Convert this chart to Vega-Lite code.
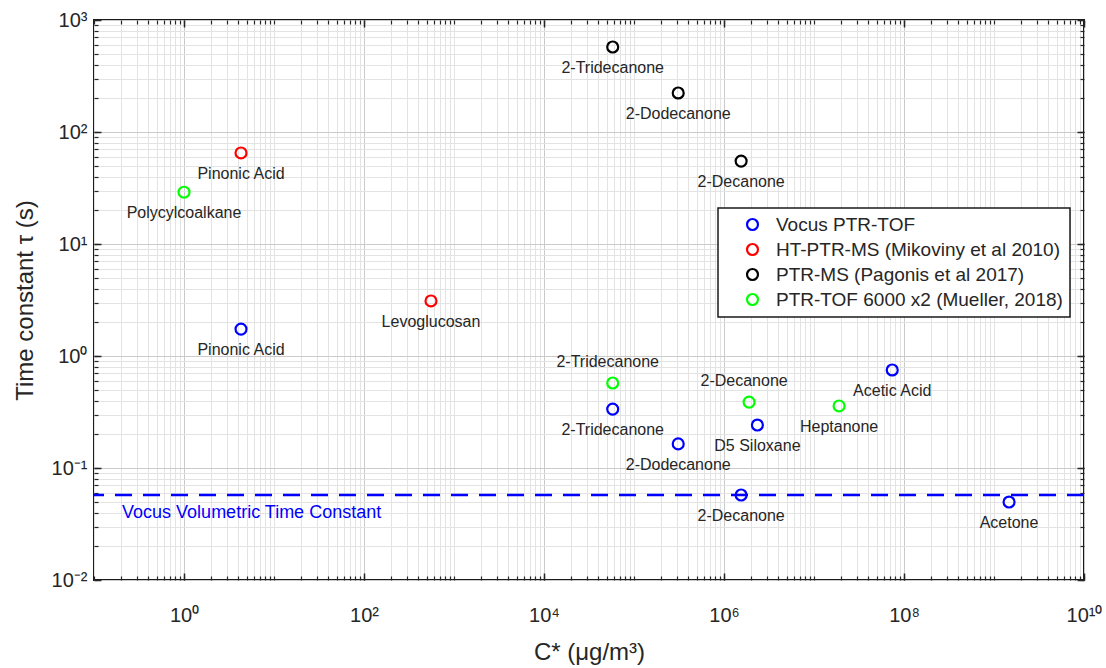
{
  "$schema": "https://vega.github.io/schema/vega-lite/v6.json",
  "width": 990,
  "height": 560,
  "autosize": {"type": "none"},
  "padding": {"left": 94, "top": 20, "right": 22, "bottom": 88},
  "background": "white",
  "config": {
    "font": "Liberation Sans",
    "view": {"stroke": "#1a1a1a", "strokeWidth": 2},
    "axis": {"domain": false, "labelFlush": false, "tickColor": "#262626", "labelColor": "#262626", "titleColor": "#262626", "titleFontWeight": "normal"},
    "legend": {"orient": "none", "legendX": 624, "legendY": 188, "strokeColor": "#1a1a1a", "strokeWidth": 1.5, "padding": 7, "fillColor": "white", "labelFontSize": 19, "labelLimit": 0, "labelColor": "#262626", "symbolOffset": 18, "labelOffset": 14, "rowPadding": 4, "symbolStrokeWidth": 2.2, "symbolSize": 120, "symbolType": "circle", "title": null}
  },
  "datasets": {
    "pts": [
      {"inst": "Vocus PTR-TOF", "name": "Pinonic Acid", "C": 4.3, "tau": 1.74, "pos": "b"},
      {"inst": "Vocus PTR-TOF", "name": "2-Tridecanone", "C": 58000, "tau": 0.336, "pos": "b"},
      {"inst": "Vocus PTR-TOF", "name": "2-Dodecanone", "C": 310000, "tau": 0.164, "pos": "b"},
      {"inst": "Vocus PTR-TOF", "name": "2-Decanone", "C": 1550000, "tau": 0.0574, "pos": "b"},
      {"inst": "Vocus PTR-TOF", "name": "D5 Siloxane", "C": 2350000, "tau": 0.242, "pos": "b"},
      {"inst": "Vocus PTR-TOF", "name": "Acetic Acid", "C": 74000000, "tau": 0.75, "pos": "b"},
      {"inst": "Vocus PTR-TOF", "name": "Acetone", "C": 1470000000, "tau": 0.0497, "pos": "b"},
      {"inst": "HT-PTR-MS (Mikoviny et al 2010)", "name": "Pinonic Acid", "C": 4.3, "tau": 65, "pos": "b"},
      {"inst": "HT-PTR-MS (Mikoviny et al 2010)", "name": "Levoglucosan", "C": 555, "tau": 3.1, "pos": "b"},
      {"inst": "PTR-MS (Pagonis et al 2017)", "name": "2-Tridecanone", "C": 58000, "tau": 574, "pos": "b"},
      {"inst": "PTR-MS (Pagonis et al 2017)", "name": "2-Dodecanone", "C": 310000, "tau": 223, "pos": "b"},
      {"inst": "PTR-MS (Pagonis et al 2017)", "name": "2-Decanone", "C": 1550000, "tau": 55, "pos": "b"},
      {"inst": "PTR-TOF 6000 x2 (Mueller, 2018)", "name": "Polycylcoalkane", "C": 1.0, "tau": 29, "pos": "b"},
      {"inst": "PTR-TOF 6000 x2 (Mueller, 2018)", "name": "2-Tridecanone", "C": 58000, "tau": 0.574, "pos": "a"},
      {"inst": "PTR-TOF 6000 x2 (Mueller, 2018)", "name": "2-Decanone", "C": 1900000, "tau": 0.388, "pos": "a"},
      {"inst": "PTR-TOF 6000 x2 (Mueller, 2018)", "name": "Heptanone", "C": 19000000, "tau": 0.358, "pos": "b"}
    ],
    "ref": [
      {"C": 0.205, "tau": 0.0574, "label": "Vocus Volumetric Time Constant"}
    ]
  },
  "layer": [
    {
      "data": {"name": "ref"},
      "mark": {"type": "text", "align": "left", "baseline": "middle", "dy": 18, "fontSize": 18, "color": "#0000ff"},
      "encoding": {
        "x": {"field": "C", "type": "quantitative", "scale": {"type": "log", "domain": [0.1, 10000000000], "nice": false},
          "axis": {"orient": "bottom", "values": [0.1,0.2,0.3,0.4,0.5,0.6,0.7,0.8,0.9,1,2,3,4,5,6,7,8,9,10,20,30,40,50,60,70,80,90,100,200,300,400,500,600,700,800,900,1000,2000,3000,4000,5000,6000,7000,8000,9000,10000,20000,30000,40000,50000,60000,70000,80000,90000,100000,200000,300000,400000,500000,600000,700000,800000,900000,1000000,2000000,3000000,4000000,5000000,6000000,7000000,8000000,9000000,10000000,20000000,30000000,40000000,50000000,60000000,70000000,80000000,90000000,100000000,200000000,300000000,400000000,500000000,600000000,700000000,800000000,900000000,1000000000,2000000000,3000000000,4000000000,5000000000,6000000000,7000000000,8000000000,9000000000,10000000000],
            "grid": true, "gridColor": "#e3e3e3", "gridWidth": 1, "labels": false, "ticks": true, "tickSize": -4, "tickWidth": 1.2, "title": null}},
        "y": {"field": "tau", "type": "quantitative", "scale": {"type": "log", "domain": [0.01, 1000], "nice": false},
          "axis": {"orient": "left", "values": [0.01,0.02,0.03,0.04,0.05,0.06,0.07,0.08,0.09,0.1,0.2,0.3,0.4,0.5,0.6,0.7,0.8,0.9,1,2,3,4,5,6,7,8,9,10,20,30,40,50,60,70,80,90,100,200,300,400,500,600,700,800,900,1000],
            "grid": true, "gridColor": "#e3e3e3", "gridWidth": 1, "labels": false, "ticks": true, "tickSize": -4, "tickWidth": 1.2, "title": null}},
        "text": {"field": "label"}
      }
    },
    {
      "data": {"name": "ref"},
      "mark": {"type": "rule", "color": "#0000ff", "strokeWidth": 2.5, "strokeDash": [17, 11]},
      "encoding": {
        "y": {"field": "tau", "type": "quantitative", "axis": null}
      }
    },
    {
      "data": {"name": "pts"},
      "mark": {"type": "point", "shape": "circle", "filled": false, "size": 120, "strokeWidth": 2.2, "opacity": 1},
      "encoding": {
        "x": {"field": "C", "type": "quantitative",
          "axis": {"orient": "bottom", "values": [1, 100, 10000, 1000000, 100000000, 10000000000], "grid": true, "gridColor": "#cbcbcb", "gridWidth": 1,
            "ticks": true, "tickSize": -7, "tickWidth": 1.5, "labelFontSize": 20, "labelPadding": 32,
            "labelExpr": "'10' + ['⁻²','⁻¹','⁰','¹','²','³','⁴','⁵','⁶','⁷','⁸','⁹','¹⁰'][round(log(datum.value)/LN10)+2]",
            "title": "C* (μg/m³)", "titleFontSize": 24, "titlePadding": 15}},
        "y": {"field": "tau", "type": "quantitative",
          "axis": {"orient": "left", "values": [0.01, 0.1, 1, 10, 100, 1000], "grid": true, "gridColor": "#cbcbcb", "gridWidth": 1,
            "ticks": true, "tickSize": -7, "tickWidth": 1.5, "labelFontSize": 20, "labelPadding": 14,
            "labelExpr": "'10' + ['⁻²','⁻¹','⁰','¹','²','³','⁴','⁵','⁶','⁷','⁸','⁹','¹⁰'][round(log(datum.value)/LN10)+2]",
            "title": "Time constant τ (s)", "titleFontSize": 24, "titlePadding": 14}},
        "color": {"field": "inst", "type": "nominal",
          "scale": {"domain": ["Vocus PTR-TOF", "HT-PTR-MS (Mikoviny et al 2010)", "PTR-MS (Pagonis et al 2017)", "PTR-TOF 6000 x2 (Mueller, 2018)"],
                    "range": ["#0000ff", "#ff0000", "#000000", "#00ff00"]},
          "legend": {"title": null}}
      }
    },
    {
      "data": {"name": "pts"},
      "transform": [{"filter": "datum.pos == 'b'"}],
      "mark": {"type": "text", "align": "center", "baseline": "middle", "dy": 21, "fontSize": 16, "color": "#262626"},
      "encoding": {
        "x": {"field": "C", "type": "quantitative",
          "axis": {"orient": "top", "values": [0.1,0.2,0.3,0.4,0.5,0.6,0.7,0.8,0.9,1,2,3,4,5,6,7,8,9,10,20,30,40,50,60,70,80,90,100,200,300,400,500,600,700,800,900,1000,2000,3000,4000,5000,6000,7000,8000,9000,10000,20000,30000,40000,50000,60000,70000,80000,90000,100000,200000,300000,400000,500000,600000,700000,800000,900000,1000000,2000000,3000000,4000000,5000000,6000000,7000000,8000000,9000000,10000000,20000000,30000000,40000000,50000000,60000000,70000000,80000000,90000000,100000000,200000000,300000000,400000000,500000000,600000000,700000000,800000000,900000000,1000000000,2000000000,3000000000,4000000000,5000000000,6000000000,7000000000,8000000000,9000000000,10000000000],
            "grid": false, "labels": false, "ticks": true, "tickSize": -4, "tickWidth": 1.2, "title": null}},
        "y": {"field": "tau", "type": "quantitative",
          "axis": {"orient": "right", "values": [0.01,0.02,0.03,0.04,0.05,0.06,0.07,0.08,0.09,0.1,0.2,0.3,0.4,0.5,0.6,0.7,0.8,0.9,1,2,3,4,5,6,7,8,9,10,20,30,40,50,60,70,80,90,100,200,300,400,500,600,700,800,900,1000],
            "grid": false, "labels": false, "ticks": true, "tickSize": -4, "tickWidth": 1.2, "title": null}},
        "text": {"field": "name"}
      }
    },
    {
      "data": {"name": "pts"},
      "transform": [{"filter": "datum.pos == 'a'"}],
      "mark": {"type": "text", "align": "center", "baseline": "middle", "dx": -5, "dy": -21, "fontSize": 16, "color": "#262626"},
      "encoding": {
        "x": {"field": "C", "type": "quantitative",
          "axis": {"orient": "top", "values": [1, 100, 10000, 1000000, 100000000, 10000000000], "grid": false, "labels": false, "ticks": true, "tickSize": -7, "tickWidth": 1.5, "title": null}},
        "y": {"field": "tau", "type": "quantitative",
          "axis": {"orient": "right", "values": [0.01, 0.1, 1, 10, 100, 1000], "grid": false, "labels": false, "ticks": true, "tickSize": -7, "tickWidth": 1.5, "title": null}},
        "text": {"field": "name"}
      }
    }
  ],
  "resolve": {"axis": {"x": "independent", "y": "independent"}}
}
